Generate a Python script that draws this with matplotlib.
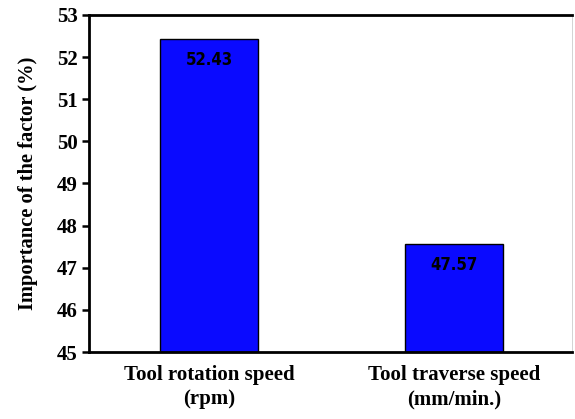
import matplotlib
matplotlib.use("Agg")
import matplotlib.pyplot as plt

categories = ["Tool rotation speed\n(rpm)", "Tool traverse speed\n(mm/min.)"]
values = [52.43, 47.57]
yticks = [45, 46, 47, 48, 49, 50, 51, 52, 53]

fig = plt.figure(figsize=(5.75, 4.19), dpi=100)
ax = fig.add_axes([89/575, (419-352)/419, (572-89)/575, (352-15)/419])

x = list(range(len(categories)))
bars = ax.bar(x, [v - 45 for v in values], bottom=45, width=0.4,
              color="#0a0aff", edgecolor="black", linewidth=1.0)
for xi, v in zip(x, values):
    ax.text(xi, v - 0.5, f"{v:.2f}", ha="center", va="center",
            fontsize=12, fontweight="bold", family="DejaVu Sans",
            fontstretch="condensed")

ax.set_xlim(-0.49, 1.48)
ax.set_ylim(45, 53)
ax.set_yticks(yticks)
ax.set_yticklabels([str(t) for t in yticks], fontsize=15, fontweight="bold",
                   family="Liberation Serif")
ax.set_xticks(x)
ax.set_xticklabels(categories, fontsize=15, fontweight="bold",
                   family="Liberation Serif", linespacing=1.3)
ax.tick_params(axis="x", length=0, pad=9)
ax.tick_params(axis="y", direction="out", length=5, width=1.8, pad=3)
ax.set_ylabel("Importance of the factor (%)", fontsize=14.8, fontweight="bold",
              family="Liberation Serif")
ax.yaxis.set_label_coords(-(89-38)/483, 0.5)
for side in ["left", "bottom", "top"]:
    ax.spines[side].set_linewidth(2.0)
ax.spines["right"].set_linewidth(0.6)
ax.spines["right"].set_color("#cccccc")

fig.savefig("out.png", dpi=100)
